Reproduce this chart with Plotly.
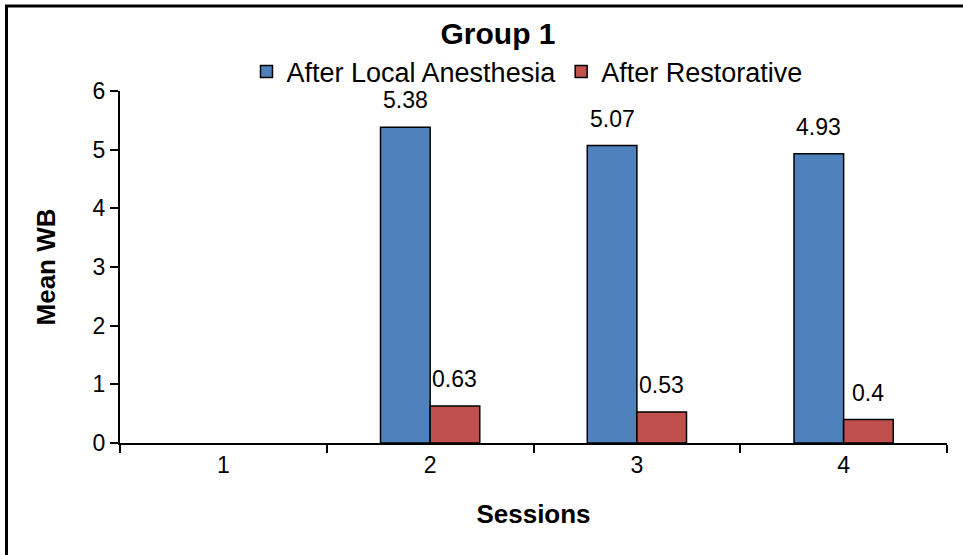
import plotly.graph_objects as go

sessions = ["1", "2", "3", "4"]
after_local = [None, 5.38, 5.07, 4.93]
after_restorative = [None, 0.63, 0.53, 0.4]
series_names = ["After Local Anesthesia", "After Restorative"]
y_ticks = [0, 1, 2, 3, 4, 5, 6]

W, H = 963, 555
ML, MR, MT, MB = 120, 16, 91, 112
PW, PH = W - ML - MR, H - MT - MB

FONT = "Liberation Sans, Arial, sans-serif"
BLUE = "#4F81BD"
RED = "#C0504D"

fig = go.Figure()
fig.add_trace(go.Bar(x=sessions, y=after_local, name=series_names[0],
                     marker=dict(color=BLUE, line=dict(color="black", width=1.5))))
fig.add_trace(go.Bar(x=sessions, y=after_restorative, name=series_names[1],
                     marker=dict(color=RED, line=dict(color="black", width=1.5))))

bar_px = 0.24 * PW / 4
annotations = []
for vals, shift in ((after_local, -bar_px / 2), (after_restorative, bar_px / 2)):
    for i, v in enumerate(vals):
        if v is None:
            continue
        annotations.append(dict(x=i, y=v, xref="x", yref="y", text=str(v),
                                showarrow=False, xshift=shift, yshift=12,
                                yanchor="bottom",
                                font=dict(family=FONT, size=23, color="black")))

def px_x(p):
    return (p - ML) / PW

def px_y(p):
    return (H - MB - p) / PH

fig.update_layout(
    width=W, height=H,
    margin=dict(l=ML, r=MR, t=MT, b=MB, autoexpand=False),
    paper_bgcolor="white", plot_bgcolor="white",
    font=dict(family=FONT, size=23, color="black"),
    barmode="group", bargap=0.52, bargroupgap=0,
    title=dict(text="<b>Group 1</b>", font=dict(family=FONT, size=30, color="black"),
               x=498 / W, xref="container", xanchor="center",
               y=1 - 33 / H, yref="container", yanchor="middle"),
    legend=dict(orientation="h", x=px_x(527), xanchor="center",
                y=px_y(72), yanchor="middle",
                font=dict(family=FONT, size=27, color="black"),
                itemclick=False, itemdoubleclick=False,
                tracegroupgap=0, itemwidth=30),
    xaxis=dict(type="category", range=[-0.5, 3.5], tickson="boundaries",
               ticks="outside", ticklen=8, tickwidth=2, tickcolor="black",
               showline=True, linecolor="black", linewidth=2,
               showgrid=False, zeroline=False,
               tickfont=dict(family=FONT, size=23, color="black"),
               title=dict(text="<b>Sessions</b>", standoff=28,
                          font=dict(family=FONT, size=26, color="black"))),
    yaxis=dict(range=[0, 6], tickvals=y_ticks, ticks="outside", ticklen=8,
               tickwidth=2, tickcolor="black",
               showline=True, linecolor="black", linewidth=2,
               showgrid=False, zeroline=False,
               tickfont=dict(family=FONT, size=23, color="black"),
               title=dict(text="<b>Mean WB</b>", standoff=30,
                          font=dict(family=FONT, size=26, color="black"))),
    annotations=annotations,
    shapes=[dict(type="rect", xref="paper", yref="paper",
                 x0=px_x(6.5), x1=px_x(1100), y0=px_y(700), y1=px_y(6),
                 line=dict(color="black", width=3), fillcolor="rgba(0,0,0,0)")],
)

fig.write_html("out.html", config={"displayModeBar": False},
               post_script="document.body.style.margin='0';document.body.style.overflow='hidden';")
